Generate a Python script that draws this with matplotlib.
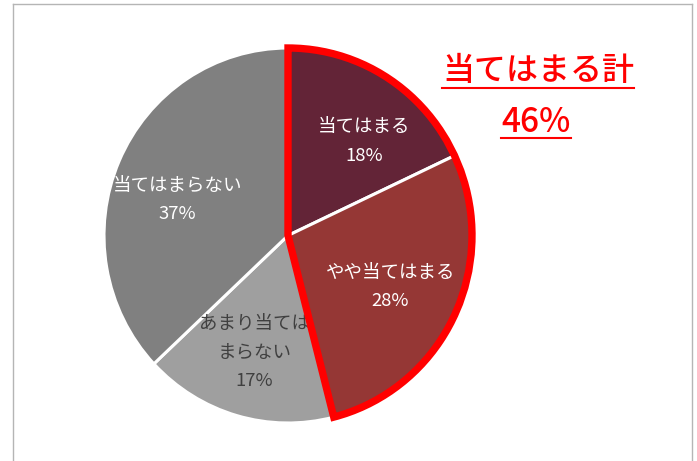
import numpy as np
import matplotlib
matplotlib.use("Agg")
import matplotlib.pyplot as plt
from matplotlib.patches import Wedge
from matplotlib.lines import Line2D

plt.rcParams['font.family'] = ['Noto Sans CJK JP', 'DejaVu Sans']

# ---- data ----
categories = ["当てはまる", "やや当てはまる", "あまり当ては\nまらない", "当てはまらない"]
values = [18, 28, 17, 37]
total_label = "当てはまる計"
total_value = values[0] + values[1]

# ---- style ----
colors = ["#632437", "#953735", "#9f9f9f", "#808080"]
text_colors = ["white", "white", "#404040", "white"]
label_radius = [0.65, 0.62, 0.65, 0.63]
label_nudge_deg = [-7, -1, 0, 6]

W, H = 697, 461
fig = plt.figure(figsize=(W / 100, H / 100), dpi=100)
fig.patch.set_facecolor("white")

# pie axes (slightly taller than wide, as in the reference)
cx, cy, rx, ry = 288, 235.5, 184, 187.5
ax = fig.add_axes([(cx - rx) / W, (H - cy - ry) / H, 2 * rx / W, 2 * ry / H])
wedges, _ = ax.pie(values, colors=colors, startangle=90, counterclock=False,
                   radius=1, wedgeprops=dict(edgecolor="white", linewidth=2.2))
ax.set_aspect("auto")
ax.set_xlim(-1, 1)
ax.set_ylim(-1, 1)
ax.axis("off")

# labels
for w, cat, v, tc, r, nd in zip(wedges, categories, values, text_colors, label_radius, label_nudge_deg):
    ang = np.deg2rad((w.theta1 + w.theta2) / 2 + nd)
    ax.text(r * np.cos(ang), r * np.sin(ang), f"{cat}\n{v}%", ha="center", va="center",
            color=tc, fontsize=13.3, linespacing=1.75)

# red outline around the "当てはまる" total
end_deg = 90
start_deg = 90 - 360 * total_value / sum(values)
ax.add_patch(Wedge((0, 0), 1.0, start_deg, end_deg, fill=False, edgecolor="#ff0000",
                   linewidth=5.3, joinstyle="miter", clip_on=False, zorder=5))

# title texts
t1 = fig.text(538 / W, 1 - 71 / H, total_label, ha="center", va="center",
              color="#ff0000", fontsize=23, fontweight="medium")
t2 = fig.text(536 / W, 1 - 123 / H, f"{total_value}%", ha="center", va="center",
              color="#ff0000", fontsize=24, fontweight="medium")

# frame
fc = "#b5b5b5"
fig.add_artist(Line2D([12.5 / W, 12.5 / W], [0, 1 - 4.5 / H], color=fc, lw=1.0))
fig.add_artist(Line2D([691.5 / W, 691.5 / W], [0, 1 - 4.5 / H], color=fc, lw=1.0))
fig.add_artist(Line2D([12.5 / W, 691.5 / W], [1 - 4.5 / H, 1 - 4.5 / H], color=fc, lw=1.0))

# underlines under title texts
fig.canvas.draw()
r = fig.canvas.get_renderer()
for t, uy in ((t1, 88), (t2, 138)):
    bb = t.get_window_extent(r)
    fig.add_artist(Line2D([bb.x0 / W, bb.x1 / W], [1 - uy / H, 1 - uy / H],
                          color="#ff0000", lw=1.5))

fig.savefig("out.png", dpi=100, facecolor="white")
